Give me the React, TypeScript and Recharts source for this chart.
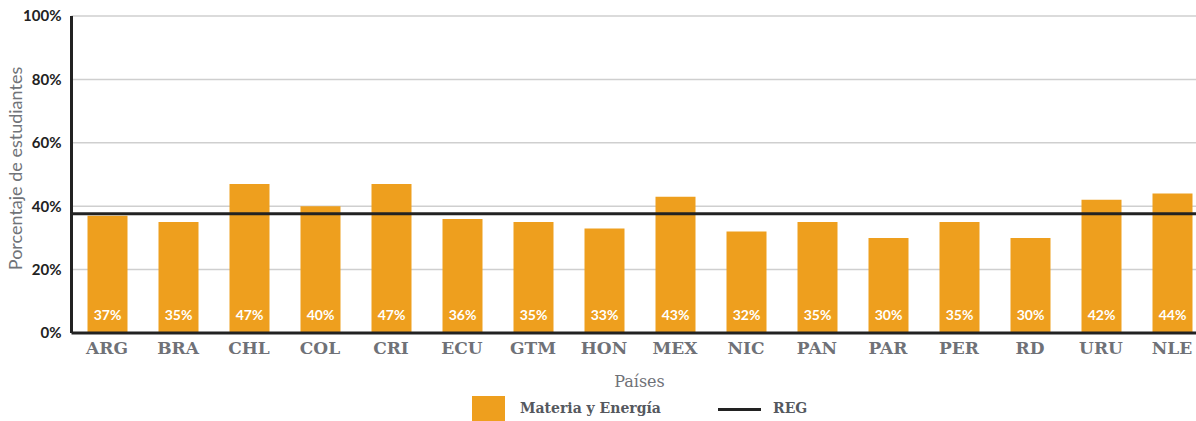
import React from "react";
import {
  ComposedChart,
  Bar,
  XAxis,
  YAxis,
  CartesianGrid,
  ReferenceLine,
  LabelList,
} from "recharts";

const countries = ["ARG", "BRA", "CHL", "COL", "CRI", "ECU", "GTM", "HON", "MEX", "NIC", "PAN", "PAR", "PER", "RD", "URU", "NLE"];
const materiaEnergia = [37, 35, 47, 40, 47, 36, 35, 33, 43, 32, 35, 30, 35, 30, 42, 44];
const regValue = 37.6;
const yTicks = [0, 20, 40, 60, 80, 100];

const ORANGE = "#EE9F1E";
const SERIF = "'DejaVu Serif', serif";

const data = countries.map((c, i) => ({ country: c, value: materiaEnergia[i] }));

const BarValueLabel = (props: any) => {
  const { x, y, width, height, value } = props;
  return (
    <text
      x={x + width / 2}
      y={y + height - 13}
      textAnchor="middle"
      fill="#fff"
      fontFamily="Lato, sans-serif"
      fontWeight={700}
      fontSize={14}
    >
      {value}%
    </text>
  );
};

// y axis title, placed against the left edge of the axis box
const YTitle = (p: any) => {
  const vb = p.viewBox;
  const cx = vb.x + 5;
  const cy = vb.y + vb.height / 2 - 6;
  return (
    <text
      x={cx}
      y={cy}
      transform={`rotate(-90, ${cx}, ${cy})`}
      textAnchor="middle"
      dominantBaseline="central"
      fill="#707378"
      fontFamily="Lato, sans-serif"
      fontSize={18}
    >
      Porcentaje de estudiantes
    </text>
  );
};

const App = () => {
  return (
    <div style={{ position: "absolute", left: 0, top: 0, width: 1196, height: 421, overflow: "hidden", background: "#fff" }}>
      <ComposedChart
        width={1212}
        height={421}
        data={data}
        margin={{ top: 16, right: 4.5, left: 9.5, bottom: 0 }}
      >
        <CartesianGrid vertical={false} stroke="#cfcfcf" strokeWidth={1.5} />
        <XAxis
          dataKey="country"
          height={88}
          axisLine={{ stroke: "#222", strokeWidth: 3 }}
          tickLine={false}
          tickSize={0}
          tickMargin={9}
          tick={{ fill: "#6f7177", fontFamily: SERIF, fontSize: 17, fontWeight: 700 }}
          label={(p: any) => {
            const vb = p.viewBox;
            return (
              <text
                x={vb.x + vb.width / 2}
                y={vb.y + 54}
                textAnchor="middle"
                fill="#6f7177"
                fontFamily={SERIF}
                fontSize={16}
              >
                Países
              </text>
            );
          }}
        />
        <YAxis
          width={62}
          domain={[0, 100]}
          ticks={yTicks}
          interval={0}
          axisLine={{ stroke: "#222", strokeWidth: 3 }}
          tickLine={false}
          tickSize={0}
          tickMargin={10}
          tickFormatter={(v: number) => `${v}%`}
          tick={{ fill: "#222", fontFamily: "Lato, sans-serif", fontSize: 15, fontWeight: 700 }}
          label={YTitle}
        />
        <Bar dataKey="value" fill={ORANGE} barSize={40} isAnimationActive={false}>
          <LabelList dataKey="value" content={BarValueLabel} />
        </Bar>
        <ReferenceLine y={regValue} stroke="#222" strokeWidth={3} ifOverflow="extendDomain" />
      </ComposedChart>
      <div
        style={{
          position: "absolute",
          left: 472,
          top: 396,
          width: 33,
          height: 26,
          background: ORANGE,
        }}
      />
      <div
        style={{
          position: "absolute",
          left: 520,
          top: 400,
          fontFamily: SERIF,
          fontWeight: 700,
          fontSize: 14,
          color: "#55585e",
          whiteSpace: "nowrap",
        }}
      >
        Materia y Energía
      </div>
      <div
        style={{
          position: "absolute",
          left: 718,
          top: 408,
          width: 43,
          height: 3,
          background: "#222",
        }}
      />
      <div
        style={{
          position: "absolute",
          left: 773,
          top: 400,
          fontFamily: SERIF,
          fontWeight: 700,
          fontSize: 14,
          color: "#55585e",
        }}
      >
        REG
      </div>
    </div>
  );
};

export default App;
